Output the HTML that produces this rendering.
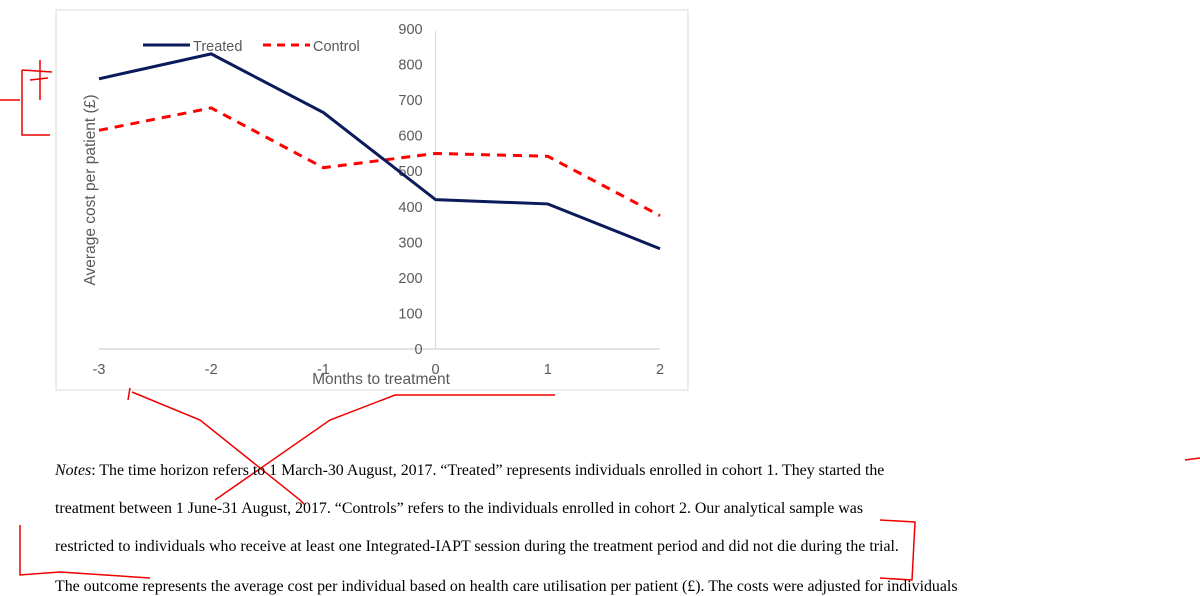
<!DOCTYPE html>
<html><head><meta charset="utf-8"><style>
body{margin:0;width:1200px;height:585px;background:#fff;overflow:hidden;position:relative;font-family:"Liberation Sans",sans-serif}
.note{position:absolute;left:55px;font-family:"Liberation Serif",serif;font-size:15.9px;color:#000;white-space:nowrap}
</style></head><body>
<svg width="1200" height="585" style="position:absolute;left:0;top:0">
<rect x="56" y="10" width="632" height="380" fill="#fff" stroke="#d9d9d9"/>
<g id="plot"></g>
<text transform="translate(95,190) rotate(-90)" text-anchor="middle" font-size="15.5" fill="#595959">Average cost per patient (£)</text>
<text x="381" y="384" text-anchor="middle" font-size="15.5" fill="#595959">Months to treatment</text>
<g>
<line x1="143" y1="45" x2="190" y2="45" stroke="#0b1a5a" stroke-width="3"/>
<text x="193" y="51" font-size="14.5" fill="#595959">Treated</text>
<line x1="263" y1="45" x2="310" y2="45" stroke="#f00" stroke-width="3" stroke-dasharray="8,6"/>
<text x="313" y="51" font-size="14.5" fill="#595959">Control</text>
</g>
<g fill="none" stroke="#e00" stroke-width="1.5">
<path d="M0 100 L20 100 M22 70 L22 135 L50 135 M22 70 L52 72 M40 60 L40 100 M30 80 L48 78"/>
<path d="M130 388 L128 400 M132 392 L200 420 L300 500 L305 505"/>
<path d="M215 500 L330 420 L395 395 L555 395"/>
<path d="M20 525 L20 575 L60 572 L150 578 M880 520 L915 522 L912 580 L880 578 M1185 460 L1200 458"/>
</g>
</svg>
<div class="note" style="top:462px"><i>Notes</i>: The time horizon refers to 1 March-30 August, 2017. “Treated” represents individuals enrolled in cohort 1. They started the</div>
<div class="note" style="top:500px">treatment between 1 June-31 August, 2017. “Controls” refers to the individuals enrolled in cohort 2. Our analytical sample was</div>
<div class="note" style="top:538px">restricted to individuals who receive at least one Integrated-IAPT session during the treatment period and did not die during the trial.</div>
<div class="note" style="top:578px">The outcome represents the average cost per individual based on health care utilisation per patient (£). The costs were adjusted for individuals</div>
<script>
const months=[-3,-2,-1,0,1,2];
const treated=[760,830,665,420,408,282];
const control=[615,678,510,550,542,375];
const yTicks=[0,100,200,300,400,500,600,700,800,900];
const xTicks=["-3","-2","-1","0","1","2"];
const NS="http://www.w3.org/2000/svg";
const g=document.getElementById('plot');
const sx=m=>99+(m+3)*112.2;
const sy=v=>349-v*(320/900);
function mk(t,a){const e=document.createElementNS(NS,t);for(const k in a)e.setAttribute(k,a[k]);g.appendChild(e);return e;}
const xa=mk('line',{x1:sx(-3),x2:sx(2),y1:sy(0),y2:sy(0),stroke:'#d9d9d9','stroke-width':1.5});


const ya=mk('line',{x1:sx(0),x2:sx(0),y1:sy(900)+2,y2:sy(0),stroke:'#d9d9d9'});


yTicks.forEach(v=>{const t=mk('text',{x:sx(0)-13,y:sy(v)+5,'text-anchor':'end','font-size':14.5,fill:'#595959'});t.textContent=v;

});
months.forEach((m,i)=>{const t=mk('text',{x:sx(m),y:374,'text-anchor':'middle','font-size':14.5,fill:'#595959'});t.textContent=xTicks[i];

});
const pts=a=>a.map((v,i)=>sx(months[i])+','+sy(v)).join(' ');
const c=mk('polyline',{points:pts(control),fill:'none',stroke:'#f00','stroke-width':3,'stroke-dasharray':'9,7'});


const tr=mk('polyline',{points:pts(treated),fill:'none',stroke:'#0b1a5a','stroke-width':3});


</script>
</body></html>
